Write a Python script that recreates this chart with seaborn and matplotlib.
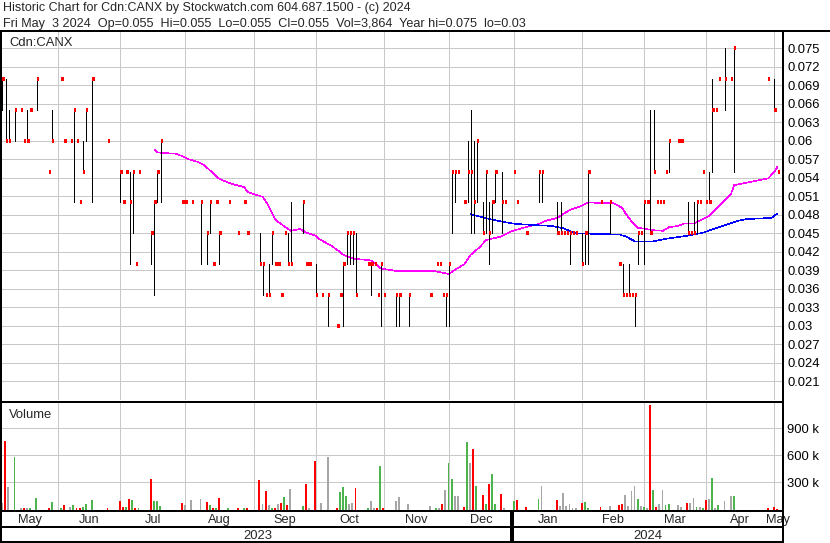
import numpy as np
import pandas as pd
import matplotlib
matplotlib.use("Agg")
import matplotlib.pyplot as plt
from matplotlib.lines import Line2D
from matplotlib.ticker import FuncFormatter
import seaborn as sns

# ---------------- data ----------------
# trading-day slot: 0 = first session shown, 250 = Fri May 3 2024
day = [0, 1, 2, 4, 6, 7, 8, 9, 11, 15, 16, 19, 20, 22, 23, 24, 25, 26, 27, 29,
       34, 38, 39, 40, 41, 42, 43, 44, 48, 49, 50, 51, 58, 59, 61, 64, 66, 67, 68, 69,
       70, 73, 76, 78, 79, 83, 84, 85, 86, 87, 88, 89, 90, 91, 92, 93, 97, 98, 99, 101,
       103, 105, 108, 109, 110, 111, 112, 113, 114, 118, 119, 120, 121, 122, 123, 127, 128, 131, 138, 140,
       141, 142, 143, 144, 145, 146, 147, 149, 150, 151, 152, 153, 155, 156, 157, 158, 159, 161, 162, 165,
       166, 169, 173, 174, 179, 180, 181, 182, 183, 184, 185, 187, 188, 189, 193, 196, 199, 200, 201, 202,
       203, 204, 205, 206, 207, 208, 209, 210, 211, 212, 213, 214, 215, 218, 219, 221, 222, 223, 224, 225,
       226, 227, 228, 229, 230, 231, 233, 235, 236, 247, 249, 250]
high = [.070, .070, .065, .065, .065, .060, .065, .065, .070, .055, .065, .070, .060, .060, .065, .060, .050, .060, .065, .070,
        .060, .055, .050, .055, .055, .055, .040, .055, .045, .050, .055, .060, .050, .050, .050, .050, .045, .050, .040, .050,
        .045, .050, .045, .050, .045, .045, .040, .035, .040, .045, .040, .040, .035, .045, .045, .050, .050, .040, .040, .040,
        .035, .035, .030, .035, .040, .045, .045, .045, .045, .040, .040, .040, .035, .040, .035, .035, .035, .035, .035, .040,
        .040, .035, .035, .040, .055, .055, .055, .050, .060, .065, .060, .060, .050, .055, .050, .050, .055, .055, .050, .055,
        .050, .045, .055, .055, .050, .050, .045, .045, .045, .045, .045, .045, .045, .055, .050, .050, .040, .040, .035, .040,
        .035, .035, .045, .045, .050, .050, .065, .065, .050, .050, .050, .055, .060, .060, .060, .050, .045, .050, .050, .050,
        .055, .050, .055, .070, .065, .070, .075, .070, .075, .070, .070, .055]
low = [.065, .060, .060, .060, .065, .060, .060, .065, .065, .055, .060, .070, .060, .060, .050, .060, .050, .055, .060, .050,
       .060, .050, .050, .055, .040, .045, .040, .055, .040, .035, .050, .050, .050, .050, .050, .040, .040, .045, .040, .050,
       .040, .050, .045, .050, .045, .040, .035, .035, .035, .040, .040, .040, .035, .045, .040, .040, .045, .040, .040, .035,
       .035, .030, .030, .035, .030, .040, .040, .040, .035, .040, .035, .040, .035, .030, .035, .030, .030, .030, .035, .040,
       .040, .035, .030, .030, .045, .050, .055, .050, .050, .045, .045, .050, .045, .045, .040, .045, .050, .045, .050, .055,
       .050, .045, .050, .050, .045, .045, .045, .045, .040, .045, .045, .040, .040, .040, .050, .045, .040, .035, .035, .035,
       .035, .030, .040, .045, .040, .050, .045, .055, .050, .050, .050, .055, .055, .060, .060, .045, .045, .045, .045, .050,
       .055, .050, .050, .055, .065, .070, .065, .070, .055, .070, .065, .055]
close = [.070, .060, .060, .065, .065, .060, .060, .065, .070, .055, .060, .070, .060, .060, .065, .060, .050, .055, .065, .070,
         .060, .055, .050, .055, .050, .055, .040, .055, .045, .050, .055, .060, .050, .050, .050, .050, .045, .050, .040, .050,
         .045, .050, .045, .050, .045, .040, .040, .035, .035, .045, .040, .040, .035, .045, .040, .040, .050, .040, .040, .035,
         .035, .035, .030, .035, .040, .045, .045, .045, .035, .040, .040, .040, .035, .040, .035, .035, .035, .035, .035, .040,
         .040, .035, .035, .040, .055, .055, .055, .050, .055, .055, .050, .060, .045, .055, .045, .050, .055, .050, .050, .055,
         .050, .045, .055, .055, .045, .045, .045, .045, .045, .045, .045, .040, .045, .055, .050, .050, .040, .035, .035, .035,
         .035, .035, .045, .045, .050, .050, .045, .055, .050, .050, .050, .055, .060, .060, .060, .045, .045, .045, .050, .050,
         .055, .050, .050, .065, .065, .070, .070, .070, .075, .070, .065, .055]
volume = [74000, 757000, 251000, 584000, 15000, 15000, 15000, 15000, 129000, 15000, 81000, 18000, 48000, 30000, 48000, 18000, 18000, 26000, 59000, 103000,
          18000, 92000, 26000, 30000, 115000, 103000, 18000, 18000, 336000, 92000, 92000, 44000, 70000, 48000, 103000, 115000, 81000, 48000, 15000, 15000,
          126000, 18000, 18000, 18000, 18000, 325000, 63000, 207000, 48000, 18000, 18000, 63000, 70000, 137000, 48000, 225000, 37000, 281000, 15000, 536000,
          70000, 580000, 18000, 192000, 247000, 148000, 63000, 70000, 236000, 18000, 92000, 15000, 15000, 480000, 15000, 92000, 137000, 59000, 37000, 15000,
          15000, 59000, 214000, 517000, 336000, 148000, 148000, 26000, 746000, 517000, 669000, 259000, 159000, 59000, 281000, 392000, 59000, 170000, 15000, 92000,
          103000, 26000, 115000, 259000, 103000, 37000, 181000, 37000, 59000, 15000, 15000, 70000, 81000, 15000, 26000, 37000, 48000, 59000, 159000, 37000,
          203000, 259000, 115000, 37000, 26000, 15000, 1156000, 214000, 26000, 59000, 214000, 48000, 59000, 48000, 26000, 70000, 70000, 126000, 26000, 26000,
          15000, 103000, 115000, 347000, 15000, 48000, 92000, 148000, 148000, 15000, 26000, 3864]

# moving averages (magenta = short, blue = long)
ma_short_day = [49, 50, 56, 58, 60, 63, 65, 68, 70, 74, 78, 79, 84, 86, 88, 91, 93, 96, 98, 101,
                102, 106, 108, 110, 113, 119, 122, 127, 139, 144, 147, 149, 151, 154, 156, 161, 164, 168, 173, 175,
                179, 183, 186, 189, 194, 197, 200, 201, 203, 205, 210, 213, 215, 218, 220, 223, 228, 231, 235, 236,
                240, 247, 249, 250]
ma_short = [.0586, .0581, .0579, .0575, .0570, .0566, .0561, .0547, .0538, .0530, .0525, .0517, .0509, .0493, .0472, .0461, .0454, .0457, .0451, .0446,
            .0441, .0430, .0423, .0415, .0409, .0406, .0393, .0389, .0389, .0384, .0394, .0400, .0415, .0428, .0439, .0445, .0453, .0459, .0465, .0470,
            .0475, .0488, .0493, .0500, .0499, .0499, .0491, .0482, .0469, .0459, .0455, .0454, .0460, .0462, .0466, .0466, .0478, .0493, .0514, .0528,
            .0532, .0539, .0550, .0558]
ma_long_day = [151, 154, 158, 162, 166, 173, 177, 181, 185, 192, 199, 201, 204, 210, 214, 221, 226, 230, 237, 240, 248, 250]
ma_long = [.0481, .0477, .0472, .0468, .0465, .0463, .0462, .0458, .0450, .0449, .0448, .0445, .0437, .0437, .0441, .0446, .0451, .0458, .0470, .0473, .0475, .0482]

month_start = [18, 38, 59, 81, 101, 123, 144, 165, 187, 207, 227, 249]
month_names = ["May", "Jun", "Jul", "Aug", "Sep", "Oct", "Nov", "Dec", "Jan", "Feb", "Mar", "Apr", "May"]
year_start = 165
year_names = ["2023", "2024"]
price_ticks = [0.021, 0.024, 0.027, 0.030, 0.033, 0.036, 0.039, 0.042, 0.045, 0.048,
               0.051, 0.054, 0.057, 0.060, 0.063, 0.066, 0.069, 0.072, 0.075]
vol_ticks = [300000, 600000, 900000]
vol_tick_labels = ["300 k", "600 k", "900 k"]

title1 = "Historic Chart for Cdn:CANX by Stockwatch.com 604.687.1500 - (c) 2024"
title2 = ("Fri May  3 2024  Op=0.055  Hi=0.055  Lo=0.055  Cl=0.055  Vol=3,864  "
          "Year hi=0.075  lo=0.03")

assert len(day) == len(high) == len(low) == len(close) == len(volume)

# ---------------- styling ----------------
sns.set_style("white")
plt.rcParams['font.family'] = ['Liberation Sans', 'DejaVu Sans']

W, H = 830, 543
fig = plt.figure(figsize=(W / 100, H / 100), dpi=100)


def rect(l, t, r, b):
    return [l / W, 1 - b / H, (r - l) / W, (b - t) / H]


XL = (-0.16, 251.45)
GRID = '#c8c8c8'
RED = '#ff0000'
GREEN = '#4db34d'
GRAY = '#a6a6a6'

ax = fig.add_axes(rect(2, 31.5, 782, 400))
vax = fig.add_axes(rect(2, 403, 782, 510))
dax = fig.add_axes(rect(2, 510, 782, 543))

df = pd.DataFrame({"day": day, "high": high, "low": low, "close": close, "volume": volume})
prev = df["close"].shift(1)
df["col"] = np.where(df["close"] > prev, GREEN, np.where(df["close"] < prev, RED, GRAY))

# ---- price & volume panel common setup ----
for a in (ax, vax):
    a.set_xlim(*XL)
    a.set_xticks(month_start)
    a.grid(True, color=GRID, lw=0.6, antialiased=False, zorder=0)
    a.set_axisbelow(True)
    for s in a.spines.values():
        s.set_visible(False)
    a.yaxis.tick_right()
    a.tick_params(axis='x', length=0, labelbottom=False)
    a.tick_params(axis='y', length=0, pad=3.6, labelsize=9.4, labelcolor='black')

ax.set_ylim(0.017968, 0.077724)
ax.set_yticks(price_ticks)
ax.yaxis.set_major_formatter(FuncFormatter(lambda v, p: f"{v:.3f}".rstrip('0')))

sns.lineplot(x=ma_short_day, y=ma_short, ax=ax, color='#ff00ff', lw=0.4,
             estimator=None, antialiased=False, zorder=2)
sns.lineplot(x=ma_long_day, y=ma_long, ax=ax, color='#0000ff', lw=0.4,
             estimator=None, antialiased=False, zorder=2)

ax.vlines(df["day"], df["low"], df["high"], colors='black', lw=0.5,
          antialiased=False, zorder=3)
ax.hlines(df["close"], df["day"], df["day"] + 0.72, colors=RED, lw=1.45,
          antialiased=False, zorder=4)
ax.set_xlabel("")
ax.set_ylabel("")

# ---- volume panel ----
vax.set_ylim(-5500, 1180000)
vax.set_yticks(vol_ticks, labels=vol_tick_labels)
vax.bar(df["day"] - 0.42, df["volume"], width=0.6, align='edge', color=df["col"],
        linewidth=0, antialiased=False, zorder=3)

# ---- date rows ----
dax.set_xlim(*XL)
dax.set_ylim(33, 0)
dax.axis('off')
bounds = [XL[0]] + month_start + [XL[1]]
for i, name in enumerate(month_names):
    dax.text((bounds[i] + bounds[i + 1]) / 2, 12.7, name, ha='center', va='baseline',
             fontsize=9.2, clip_on=False)
ybounds = [XL[0], year_start, XL[1]]
for i, name in enumerate(year_names):
    dax.text((ybounds[i] + ybounds[i + 1]) / 2, 29.3, name, ha='center', va='baseline',
             fontsize=9.4, clip_on=False)
dax.vlines(year_start - 0.5, 1, 32, colors='black', lw=1.5, antialiased=False)


# ---- frame lines ----
def fline(x0, y0, x1, y1, wpx):
    fig.add_artist(Line2D([x0 / W, x1 / W], [1 - y0 / H, 1 - y1 / H], color='black',
                          lw=wpx * 0.72, antialiased=False, solid_capstyle='butt'))


fline(0, 30.8, 830, 30.8, 2)
fline(1, 30, 1, 543, 2)
fline(782.5, 30, 782.5, 543, 2)
fline(0, 400.5, 782.5, 400.5, 1)
fline(0, 402.4, 782.5, 402.4, 1.5)
fline(0, 511, 782.5, 511, 2)
fline(0, 527, 782.5, 527, 2)
fline(0, 542, 782.5, 542, 2)

# ---- texts ----
fig.text(3 / W, 1 - 11 / H, title1, fontsize=9.0, va='baseline', ha='left')
fig.text(3 / W, 1 - 27.5 / H, title2, fontsize=9.1, va='baseline', ha='left')
fig.text(9.3 / W, 1 - 46 / H, "Cdn:CANX", fontsize=9.4, va='baseline', ha='left')
fig.text(9.3 / W, 1 - 418.3 / H, "Volume", fontsize=9.4, va='baseline', ha='left')

fig.savefig("out.png", dpi=100)
